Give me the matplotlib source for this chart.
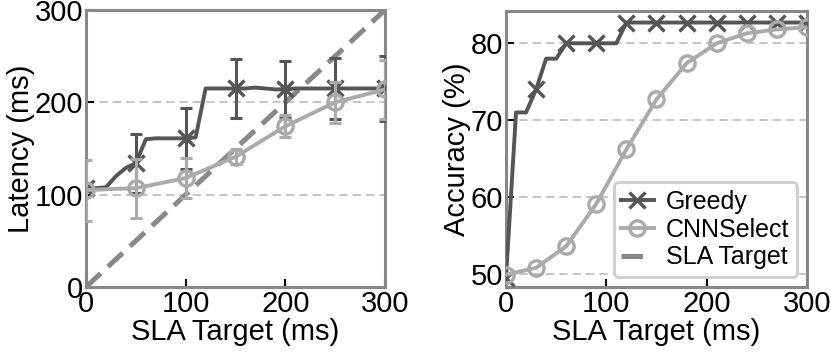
import numpy as np
import matplotlib
matplotlib.use('Agg')
import matplotlib.pyplot as plt
from matplotlib.lines import Line2D

plt.rcParams['font.family'] = ['Liberation Sans', 'DejaVu Sans']

# 左图: 延迟 vs SLA
lat_line_x = list(range(0, 301, 10))
greedy_lat_line = [107, 107, 108, 120, 129, 134, 160, 161, 161, 161, 161, 162, 215, 215, 215, 215,
                   215, 216, 215, 214, 214, 215, 215, 215, 215, 215, 215, 215, 215, 215, 215]
err_x = [0, 50, 100, 150, 200, 250, 300]
greedy_lat = [107, 134, 161, 215, 214, 215, 215]
greedy_lat_err = [0, 32, 33, 32, 31, 33, 35]
cnn_lat = [105, 107, 118, 141, 174, 200, 214]
cnn_lat_err = [33, 32, 22, 8, 12, 22, 32]
sla_x = [0, 300]
sla_y = [0, 300]

# 右图: 准确率 vs SLA
acc_line_x = list(range(0, 301, 10))
greedy_acc = [49.5, 71, 71, 74, 78, 78, 80, 80, 80, 80, 80, 80, 82.7, 82.7, 82.7, 82.7,
              82.7, 82.7, 82.7, 82.7, 82.7, 82.7, 82.7, 82.7, 82.7, 82.7, 82.7, 82.7, 82.7, 82.7, 82.7]
cnn_acc_x = list(range(0, 301, 30))
cnn_acc = [49.9, 50.8, 53.6, 59.1, 66.2, 72.7, 77.4, 80.0, 81.3, 81.8, 82.1]

c_greedy = '#555555'
c_cnn = '#aaaaaa'
c_sla = '#888888'
fs = 21

fig = plt.figure(figsize=(8.31, 3.52), dpi=100)
ax1 = fig.add_axes([0.1035, 0.1847, 0.3598, 0.7869])
ax2 = fig.add_axes([0.6089, 0.1847, 0.3622, 0.7841])

line_kw = dict(lw=2.8, ms=11, mew=2.4)
eb_kw = dict(fmt='none', elinewidth=2.2, capsize=4.5, capthick=2.2)

# 左图
ax1.plot(sla_x, sla_y, color=c_sla, lw=3.6, dashes=(4, 2), zorder=2)
ax1.plot(lat_line_x, greedy_lat_line, color=c_greedy, marker='x', markevery=5, zorder=3, **line_kw)
ax1.errorbar(err_x, greedy_lat, yerr=greedy_lat_err, ecolor=c_greedy, zorder=3, **eb_kw)
ax1.plot(err_x, cnn_lat, color=c_cnn, marker='o', mfc='none', zorder=4, **line_kw)
ax1.errorbar(err_x, cnn_lat, yerr=cnn_lat_err, ecolor=c_cnn, zorder=4, **eb_kw)
ax1.set_xlim(0, 300)
ax1.set_ylim(0, 300)
ax1.set_xticks([0, 100, 200, 300])
ax1.set_yticks([0, 100, 200, 300])
ax1.set_xlabel('SLA Target (ms)', fontsize=fs, labelpad=0)
ax1.set_ylabel('Latency (ms)', fontsize=fs, labelpad=0)

# 右图
ax2.plot(acc_line_x, greedy_acc, color=c_greedy, marker='x', markevery=3, zorder=3, label='Greedy', **line_kw)
ax2.plot(cnn_acc_x, cnn_acc, color=c_cnn, marker='o', mfc='none', zorder=4, label='CNNSelect', **line_kw)
# 图例里 SLA 只显示一段虚线
sla_handle = Line2D([], [], color=c_sla, lw=3.6, dashes=(4.3, 4), label='SLA Target')
ax2.set_xlim(0, 300)
ax2.set_ylim(48.3, 84.2)
ax2.set_xticks([0, 100, 200, 300])
ax2.set_yticks([50, 60, 70, 80])
ax2.set_xlabel('SLA Target (ms)', fontsize=fs, labelpad=0)
ax2.set_ylabel('Accuracy (%)', fontsize=fs, labelpad=0)

handles, labels = ax2.get_legend_handles_labels()
leg = ax2.legend(handles + [sla_handle], labels + ['SLA Target'], loc='lower right',
                 fontsize=18, handlelength=1.3, handletextpad=0.5, labelspacing=0.15,
                 borderpad=0.3, borderaxespad=0.4, framealpha=1, fancybox=True)
leg.get_frame().set_edgecolor('#cccccc')
leg.get_frame().set_linewidth(2)

for ax in (ax1, ax2):
    ax.yaxis.grid(True, color='#bbbbbb', lw=1.2, linestyle=(0, (5, 3)))
    ax.set_axisbelow(True)
    for sp in ax.spines.values():
        sp.set_color('#888888')
        sp.set_linewidth(2.2)
    ax.tick_params(direction='in', length=6, width=1.5, color='black', labelsize=fs,
                   top=False, right=False, pad=2)

fig.savefig('out.png', dpi=100)
